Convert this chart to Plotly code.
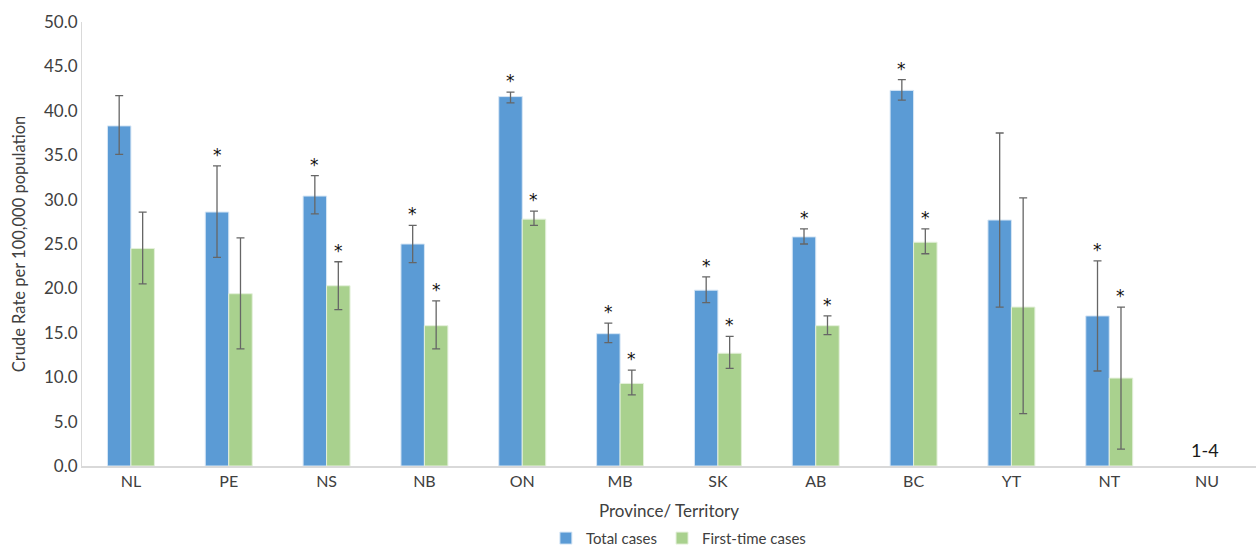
import plotly.graph_objects as go

# Provinces / territories on the x axis
regions = ["NL", "PE", "NS", "NB", "ON", "MB", "SK", "AB", "BC", "YT", "NT", "NU"]

# Crude rates per 100,000 (NU suppressed: 1-4 cases)
total_rate = [38.3, 28.6, 30.4, 25.0, 41.6, 14.9, 19.8, 25.8, 42.3, 27.7, 16.9, None]
total_upper = [41.7, 33.8, 32.7, 27.1, 42.1, 16.1, 21.3, 26.7, 43.5, 37.5, 23.1, None]
total_lower = [35.1, 23.5, 28.4, 22.9, 40.9, 13.9, 18.4, 25.0, 41.2, 17.9, 10.7, None]
total_sig = [False, True, True, True, True, True, True, True, True, False, True, False]

first_rate = [24.5, 19.4, 20.3, 15.8, 27.8, 9.3, 12.7, 15.8, 25.2, 17.9, 9.9, None]
first_upper = [28.6, 25.7, 23.0, 18.6, 28.7, 10.8, 14.6, 16.9, 26.7, 30.2, 17.9, None]
first_lower = [20.5, 13.2, 17.6, 13.2, 27.1, 8.0, 11.0, 14.8, 23.9, 5.9, 1.9, None]
first_sig = [False, False, True, True, True, True, True, True, True, False, True, False]

suppressed_label = "1-4"

FONT = "Lato, 'Open Sans', sans-serif"
TEXT = "#404040"
ERR = "#666666"


def err_parts(val, up, lo):
    plus = [None if v is None else u - v for v, u in zip(val, up)]
    minus = [None if v is None else v - l for v, l in zip(val, lo)]
    return plus, minus


tp, tm = err_parts(total_rate, total_upper, total_lower)
fp, fm = err_parts(first_rate, first_upper, first_lower)

fig = go.Figure()
fig.add_trace(go.Bar(
    x=regions, y=total_rate, name="Total cases",
    marker=dict(color="#5B9BD5", line=dict(color="#D6E6F5", width=1)),
    error_y=dict(type="data", symmetric=False, array=tp, arrayminus=tm,
                 color=ERR, thickness=1.3, width=4),
    offsetgroup="t",
))
fig.add_trace(go.Bar(
    x=regions, y=first_rate, name="First-time cases",
    marker=dict(color="#A9D18E", line=dict(color="#E4F0DB", width=1)),
    error_y=dict(type="data", symmetric=False, array=fp, arrayminus=fm,
                 color=ERR, thickness=1.3, width=4),
    offsetgroup="f",
))

# Significance markers above the upper confidence limit
annotations = []
n = len(regions)
half = 0.48 / 4  # centre offset of each bar within its group
star_font = dict(family="DejaVu Sans", size=17, color="#111111")
for i, r in enumerate(regions):
    if total_sig[i]:
        annotations.append(dict(x=i - half, y=total_upper[i], xref="x", yref="y",
                                text="*", showarrow=False, yanchor="bottom", yshift=-1,
                                font=star_font))
    if first_sig[i]:
        annotations.append(dict(x=i + half, y=first_upper[i], xref="x", yref="y",
                                text="*", showarrow=False, yanchor="bottom", yshift=-1,
                                font=star_font))

annotations.append(dict(x=n - 1 - 0.02, y=0, xref="x", yref="y", text=suppressed_label,
                        showarrow=False, yanchor="bottom", yshift=3,
                        font=dict(family=FONT, size=18, color="#1a1a1a")))

fig.update_layout(
    width=1256, height=546,
    margin=dict(l=82, r=0, t=22, b=80),
    paper_bgcolor="white", plot_bgcolor="white",
    barmode="group", bargap=0.52, bargroupgap=0,
    font=dict(family=FONT, size=16, color=TEXT),
    showlegend=True,
    legend=dict(orientation="h", x=0.508, xanchor="center",
                yref="container", y=0.014, yanchor="middle",
                font=dict(family=FONT, size=15, color=TEXT),
                itemwidth=30, traceorder="normal"),
    annotations=annotations,
    xaxis=dict(
        type="category", categoryorder="array", categoryarray=regions,
        showline=True, linecolor="#D9D9D9", linewidth=1.5,
        ticks="", showgrid=False, automargin=False,
        tickfont=dict(family=FONT, size=16, color=TEXT),
        title=dict(text="Province/ Territory", standoff=16,
                   font=dict(family=FONT, size=17, color=TEXT)),
    ),
    yaxis=dict(
        range=[0, 50], tickmode="linear", tick0=0, dtick=5, tickformat=".1f",
        showline=True, linecolor="#D9D9D9", linewidth=1,
        showgrid=False, zeroline=False, ticks="", automargin=False,
        tickfont=dict(family=FONT, size=17, color=TEXT),
        title=dict(text="Crude Rate per 100,000 population", standoff=14,
                   font=dict(family=FONT, size=16.5, color=TEXT)),
    ),
)

fig.write_html("out.html")
